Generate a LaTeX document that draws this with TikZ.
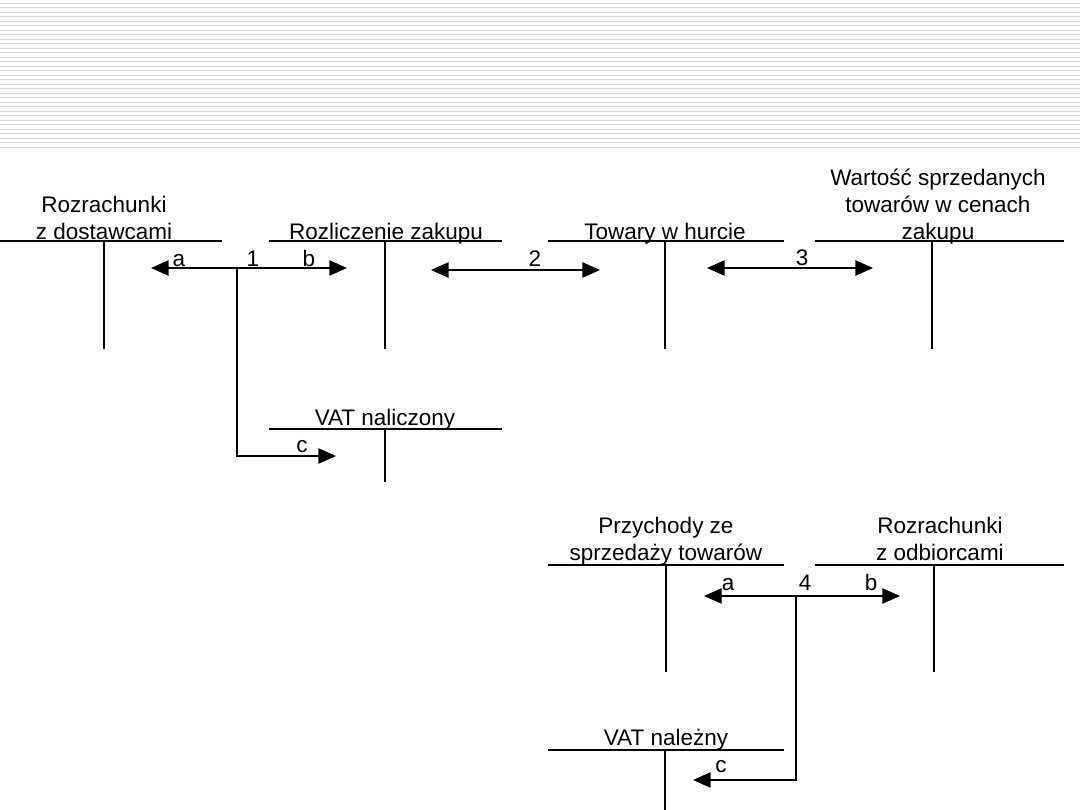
\documentclass[tikz,border=0pt]{standalone}
\usepackage{fontspec}
\setmainfont{Liberation Sans}
\usetikzlibrary{arrows.meta}
\tikzset{
  konto/.style={line width=1.2pt},
  grube/.style={line width=2pt},
  tytul/.style={align=center, anchor=base, inner sep=0pt},
  etykieta/.style={anchor=base, inner sep=0pt},
  pasek/.style={line width=0.9pt, black!16}
}
\begin{document}
\begin{tikzpicture}[x=0.025cm, y=-0.025cm, font=\fontsize{16}{19.2}\selectfont,
    >={Triangle[length=0.44cm,width=0.38cm]}]
		\useasboundingbox (0,0) rectangle (1080,810);
		
		% Paski naglowka
		\foreach \i in {0,...,32}
		  \draw[pasek] (0,{3.3+4.5*\i}) -- (1080,{3.3+4.5*\i});
		
		% Konta - gorny rzad
		\node[tytul] (dostawcy) at (104,239) {Rozrachunki\\z dostawcami};
		\draw[konto] (0,241) -- (222,241);
		\draw[konto] (104,241) -- (104,349);
		
		\node[tytul] (zakup) at (386,239) {Rozliczenie zakupu};
		\draw[konto] (269,241) -- (502,241);
		\draw[konto] (385,241) -- (385,349);
		
		\node[tytul] (towary) at (665,239) {Towary w hurcie};
		\draw[konto] (548,241) -- (784,241);
		\draw[konto] (665,241) -- (665,349);
		
		\node[tytul] (wartosc) at (938,239) {Wartość sprzedanych\\towarów w cenach\\zakupu};
		\draw[konto] (815,241) -- (1064,241);
		\draw[konto] (932,241) -- (932,349);
		
		\node[tytul] (vatnal) at (385,425) {VAT naliczony};
		\draw[konto] (269,429) -- (502,429);
		\draw[konto] (385,429) -- (385,482);
		
		% Konta - dolny rzad
		\node[tytul] (przychody) at (666,560) {Przychody ze\\sprzedaży towarów};
		\draw[grube] (548,565) -- (784,565);
		\draw[konto] (666,565) -- (666,672);
		
		\node[tytul] (odbiorcy) at (940,560) {Rozrachunki\\z odbiorcami};
		\draw[grube] (815,565) -- (1064,565);
		\draw[konto] (934,565) -- (934,672);
		
		\node[tytul] (vatnalez) at (666,745) {VAT należny};
		\draw[konto] (548,750) -- (784,750);
		\draw[konto] (665,750) -- (665,810);
		
		% Operacja 1
		\coordinate (w1) at (237,268);
		\coordinate (a1) at (151,268);
		\coordinate (b1) at (347,268);
		\coordinate (c1) at (336,456);
		\draw[konto,->] (w1) -- (a1);
		\draw[konto,->] (w1) -- (b1);
		\draw[konto,->] (w1) |- (c1);
		\node[etykieta] (la1) at (179,266) {a};
		\node[etykieta] (n1) at (253,266) {1};
		\node[etykieta] (lb1) at (309,266) {b};
		\node[etykieta] (lc1) at (302,452) {c};
		
		% Operacja 2
		\coordinate (p2) at (431,270);
		\coordinate (k2) at (600,270);
		\draw[konto,<->] (p2) -- (k2);
		\node[etykieta] (n2) at (535,266) {2};
		
		% Operacja 3
		\coordinate (p3) at (707,268);
		\coordinate (k3) at (873,268);
		\draw[konto,<->] (p3) -- (k3);
		\node[etykieta] (n3) at (802,265) {3};
		
		% Operacja 4
		\coordinate (w4) at (796,596);
		\coordinate (a4) at (704,596);
		\coordinate (b4) at (900,596);
		\coordinate (c4) at (693,780);
		\draw[konto,->] (w4) -- (a4);
		\draw[konto,->] (w4) -- (b4);
		\draw[konto,->] (w4) |- (c4);
		\node[etykieta] (la4) at (728,590) {a};
		\node[etykieta] (n4) at (805,590) {4};
		\node[etykieta] (lb4) at (871,590) {b};
		\node[etykieta] (lc4) at (721,772) {c};
		
	\end{tikzpicture}
\end{document}
